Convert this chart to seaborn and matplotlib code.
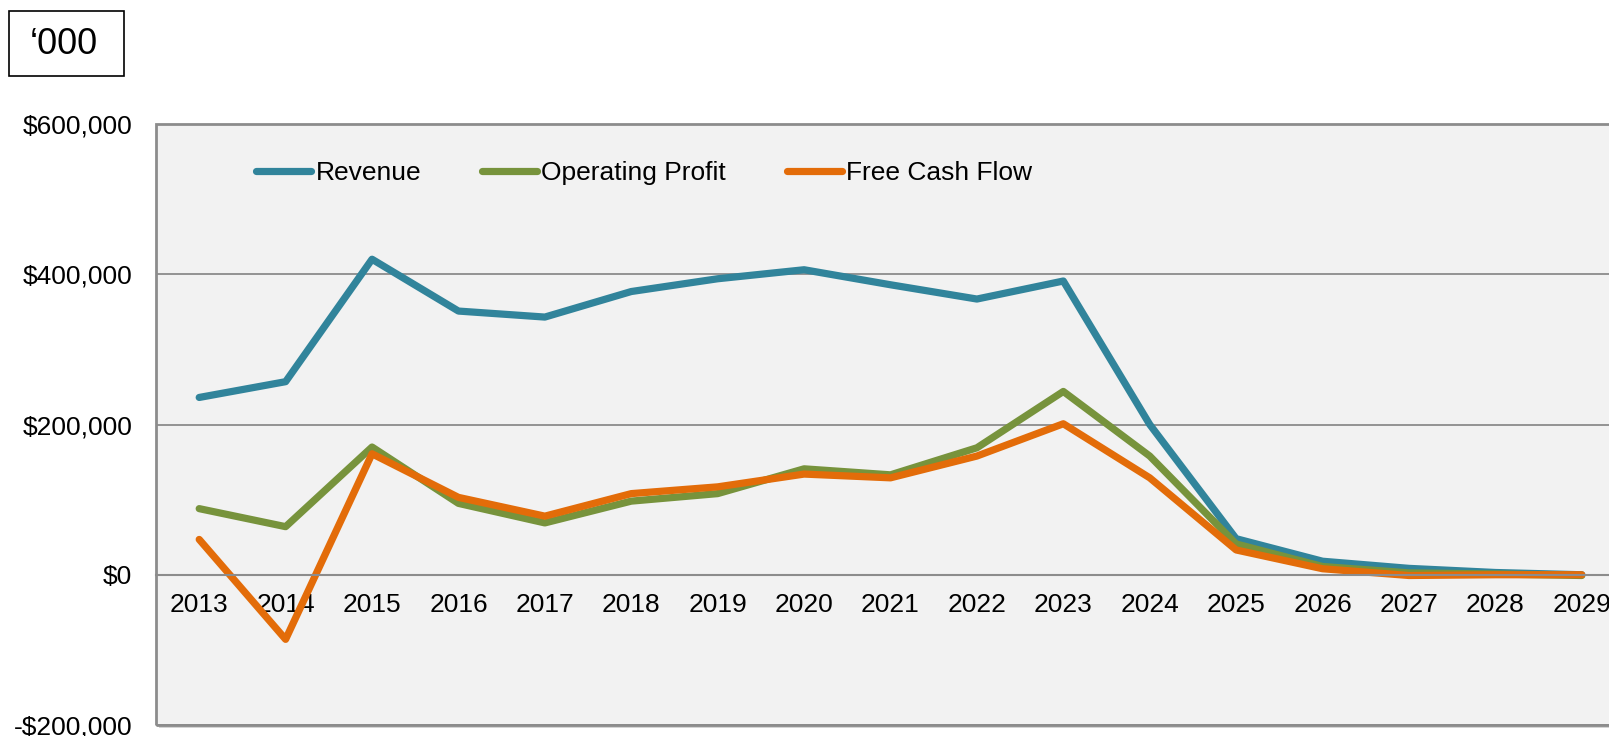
import pandas as pd
import matplotlib
matplotlib.use("Agg")
import matplotlib.pyplot as plt
from matplotlib.patches import Rectangle
from matplotlib.ticker import FuncFormatter, FixedLocator
import seaborn as sns

# values ('000)
years = list(range(2013, 2030))
revenue = [236000, 257000, 420000, 351000, 343000, 377000, 394000, 406000, 386000,
           367000, 391000, 200000, 48000, 18000, 8500, 3000, 0]
operating_profit = [88000, 64000, 170000, 95000, 69000, 98000, 108000, 141000, 133000,
                    169000, 244000, 158000, 41000, 11000, 2500, 1000, -1000]
free_cash_flow = [47000, -86000, 161000, 103000, 78000, 108000, 117000, 134000, 129000,
                  158000, 201000, 129000, 33000, 8000, -1000, 0, 0]

series_names = ["Revenue", "Operating Profit", "Free Cash Flow"]
colors = ["#31849B", "#77933C", "#E36C09"]

df = pd.DataFrame({"year": years * 3,
                   "value": revenue + operating_profit + free_cash_flow,
                   "series": sum([[n] * len(years) for n in series_names], [])})

sns.set_style("white")
plt.rcParams["font.family"] = ["Liberation Sans", "DejaVu Sans"]
plt.rcParams["text.color"] = "black"
plt.rcParams["xtick.labelcolor"] = "black"
plt.rcParams["ytick.labelcolor"] = "black"

W, H = 1609, 736
fig = plt.figure(figsize=(W / 100, H / 100), dpi=100)
ax = fig.add_axes([156 / W, 11 / H, 1469 / W, 601 / H])
ax.set_zorder(2)

# soft shadow behind the plot box
shadow = Rectangle((159 / W, 8 / H), 1469 / W, 601 / H, transform=fig.transFigure,
                   facecolor="#d4d4d4", edgecolor="none", zorder=-10)
fig.patches.append(shadow)

ax.set_facecolor("#F2F2F2")
sns.lineplot(data=df, x="year", y="value", hue="series", hue_order=series_names,
             palette=colors, linewidth=5.2, ax=ax, legend=True)
for ln in ax.get_lines():
    ln.set_solid_capstyle("round")
    ln.set_solid_joinstyle("round")

ax.set_xlim(2012.5, 2029.5)
ax.set_ylim(-200000, 600000)
ax.set_yticks([-200000, 0, 200000, 400000, 600000])


def money(v, pos):
    if v < 0:
        return "-${:,.0f}".format(-v)
    return "${:,.0f}".format(v)


ax.yaxis.set_major_formatter(FuncFormatter(money))
ax.set_xticks(years)
ax.xaxis.set_minor_locator(FixedLocator([y + 0.5 for y in years[:-1]]))
ax.tick_params(axis="x", which="major", length=0, pad=13, labelsize=19, labelcolor="black")
ax.tick_params(axis="x", which="minor", length=5, width=1.2, color="#8c8c8c", direction="out")
ax.tick_params(axis="y", length=0, pad=17, labelsize=19, labelcolor="black")
ax.set_xlabel("")
ax.set_ylabel("")

ax.yaxis.grid(True, color="#8c8c8c", linewidth=1.3)
ax.set_axisbelow(True)
for s in ["top", "right", "left"]:
    ax.spines[s].set_visible(False)
ax.spines["bottom"].set_position(("data", 0))
ax.spines["bottom"].set_color("#8c8c8c")
ax.spines["bottom"].set_linewidth(1.5)
ax.add_patch(Rectangle((0, 0), 1, 1, transform=ax.transAxes, fill=False,
                       edgecolor="#8c8c8c", linewidth=2, clip_on=False, zorder=5))

handles, labels = ax.get_legend_handles_labels()
for h in handles:
    h.set_solid_capstyle("round")
leg = ax.legend(handles, labels, loc="center left", bbox_to_anchor=(256 / W, (H - 173) / H),
                bbox_transform=fig.transFigure, ncol=3, frameon=False, fontsize=19,
                handlelength=2.1, handletextpad=0.15, columnspacing=2.3, borderpad=0,
                borderaxespad=0)
for t in leg.get_texts():
    t.set_color("black")

# '000 unit box
fig.patches.append(Rectangle((9 / W, (H - 76) / H), 115 / W, 65 / H, transform=fig.transFigure,
                             facecolor="white", edgecolor="black", linewidth=1.2))
fig.text(64 / W, (H - 44) / H, "\u2018000", fontsize=26, ha="center", va="center", color="black")

fig.savefig("out.png", dpi=100, facecolor="white")
